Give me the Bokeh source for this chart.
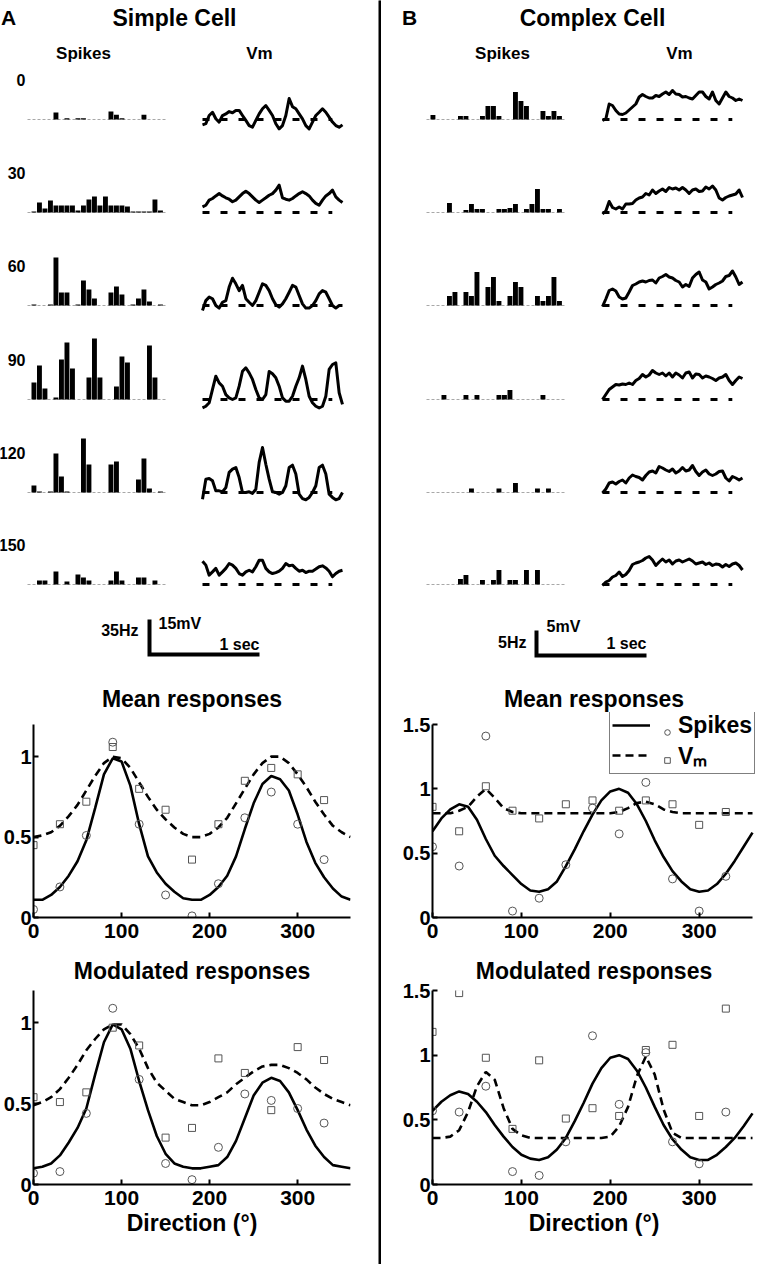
import numpy as np
from bokeh.plotting import figure
from bokeh.layouts import row, column
from bokeh.models import Range1d, FixedTicker, Legend, LegendItem, CustomJSTickFormatter
from bokeh.core.properties import value
from bokeh.embed import file_html
from bokeh.resources import INLINE

FONT = "Liberation Sans"

# =============================== DATA ===============================
ORIENTATIONS = ["0", "30", "60", "90", "120", "150"]
BIN_SEC = 0.05      # PSTH bin width (s), 25 bins
VM_DT = 0.0303      # Vm sample spacing (s), 43 samples

# PSTHs, simple cell (spikes/s)
SIMPLE_SPK_0 = [0, 0, 0, 0, 7, 0, 1.3, 0, 1.3, 1.3, 0, 0, 0, 0, 8, 4.7, 1.3, 0, 0, 0, 4.7, 0, 0, 0, 0]
SIMPLE_SPK_30 = [1, 10, 4, 12, 7, 7, 7, 7, 2, 7, 13, 16, 7, 16, 7, 7, 7, 6, 1, 1, 1, 1, 13, 2, 0]
SIMPLE_SPK_60 = [1, 0, 0, 1, 48, 13, 13, 0, 1, 25, 16, 7, 0, 0, 13, 19, 11, 0, 1, 7, 16, 4, 0, 1, 0]
SIMPLE_SPK_90 = [17, 34, 11, 0, 2, 40, 57, 31, 0, 0, 22, 61, 22, 0, 0, 13, 43, 37, 0, 0, 0, 54, 22, 0, 0]
SIMPLE_SPK_120 = [7, 1, 0, 1, 39, 16, 1, 0, 0, 54, 28, 0, 0, 0, 28, 31, 0, 0, 0, 13, 34, 4, 0, 1, 0]
SIMPLE_SPK_150 = [0, 4, 4, 0, 13, 0, 3, 0, 10, 7, 4, 0, 0, 0, 4, 13, 4, 0, 0, 7, 7, 0, 4, 0, 0]

# PSTHs, complex cell (spikes/s)
COMPLEX_SPK_0 = [0.9, 0, 0, 0, 0, 0.7, 0.7, 0, 0, 0.7, 2.7, 2.7, 0.7, 0, 0, 5.5, 3.7, 2.7, 0, 0, 1.7, 0.7, 1.7, 0.7, 0]
COMPLEX_SPK_30 = [0, 0, 0, 1.9, 0, 0, 0.5, 1.7, 0.7, 0.7, 0, 0, 0.7, 0.7, 0.9, 1.7, 0, 0.7, 1.7, 4.7, 0.7, 0.7, 0, 0.7, 0]
COMPLEX_SPK_60 = [0, 0, 0, 1.9, 2.7, 0, 2.7, 1.9, 6.7, 0, 3.7, 5.7, 0.9, 0, 1.9, 4.7, 3.7, 0, 0, 1.9, 0.9, 1.9, 5.7, 0.9, 0]
COMPLEX_SPK_90 = [0, 0, 0.9, 0, 0, 0, 0.9, 0, 0.9, 0, 0, 0, 0.9, 0.9, 1.9, 0, 0, 0, 0, 0, 0.9, 0, 0, 0, 0]
COMPLEX_SPK_120 = [0, 0, 0, 0, 0, 0, 0, 0.8, 0, 0, 0, 0, 0.8, 0, 0, 1.9, 0, 0, 0, 0.8, 0, 0.8, 0, 0, 0]
COMPLEX_SPK_150 = [0, 0, 0, 0, 0, 1.1, 1.9, 0, 0, 0.9, 0, 0.9, 2.9, 0, 0.9, 0.9, 0, 2.9, 0, 2.9, 0, 0, 0, 0, 0]

# Membrane potential (mV relative to rest), simple cell
SIMPLE_VM_0 = [-2.3, -1.8, 1.7, 3.1, 0.3, -1.1, 1.7, 2.4, 3.4, 2.9, 3.9, 3.9, 1.7, -0.4, -2.6, -3.3, -0.4, 2.4, 4.6, 6.0, 3.9, 1.7,
               -1.8, -4.0, -2.6, 1.7, 9.0, 5.5, 4.6, 2.4, 0.3, -2.6, -4.0, -1.1, 1.7, 3.1, 4.6, 3.1, 1.0, -1.1, -2.6, -3.3, -2.3]
SIMPLE_VM_30 = [2.4, 3.1, 5.3, 6.0, 7.1, 8.1, 7.1, 6.3, 5.7, 4.6, 5.3, 6.7, 8.1, 9.1, 8.1, 6.7, 5.3, 4.3, 5.3, 6.3, 7.4, 8.1,
                9.6, 11.7, 6.3, 5.7, 5.3, 6.0, 7.1, 8.1, 8.9, 8.1, 7.1, 5.3, 3.9, 3.1, 5.3, 7.1, 8.1, 9.6, 6.7, 5.3, 4.3]
SIMPLE_VM_60 = [-2.1, 2.1, 3.6, 2.9, 0, -1.1, 1.4, 2.1, 7.9, 11.7, 9.3, 6.4, 8.6, 2.9, 1.4, 0, 2.1, 5.7, 9.3, 8.6, 6.4, 2.9,
                0.3, -0.7, 0.7, 2.9, 5.7, 8.6, 7.9, 4.3, 0.7, -1.1, -1.1, 0, 2.1, 5.0, 6.4, 5.7, 2.9, 0, -1.1, 0, 0]
SIMPLE_VM_90 = [-3.6, -2.9, -1.4, 4.3, 10.0, 7.1, 5.7, 2.1, 0.7, 0, 0.7, 5.7, 12.1, 13.6, 11.4, 8.6, 4.3, 0.7, 0, 2.1, 12.0, 11.0,
                9.3, 5.7, 0.7, -0.7, -0.7, 1.4, 5.7, 9.3, 14.3, 8.6, 1.4, -1.4, -2.9, -3.6, -2.9, 1.4, 12.9, 15.0, 15.7, 2.9, -2.1]
SIMPLE_VM_120 = [-2.9, 5.7, 6.0, 5.0, 0.7, 0.7, 0.3, 2.1, 8.6, 10.0, 10.7, 6.4, 0, 0, 0.3, -0.4, 1.4, 12.9, 19.3, 12.1, 5.7, 0.3,
                 0, -0.7, 0, 2.9, 10.7, 11.7, 7.9, -0.7, -2.6, -3.1, -2.1, 0, 2.9, 10.7, 11.7, 7.9, -0.7, -2.1, -3.1, -2.6, 0]
SIMPLE_VM_150 = [10.0, 8.3, 4.0, 5.4, 6.9, 4.0, 5.4, 6.9, 9.0, 8.3, 6.9, 4.7, 4.0, 5.4, 6.1, 5.4, 7.6, 10.4, 10.4, 6.9, 5.4, 4.7,
                 5.1, 5.7, 6.9, 9.0, 8.0, 8.3, 6.9, 5.7, 6.1, 5.1, 5.7, 5.7, 6.6, 7.6, 8.0, 7.1, 5.7, 3.3, 4.7, 5.7, 6.1]

# Membrane potential (mV relative to rest), complex cell
COMPLEX_VM_0 = [-0.2, 0.1, 3.1, 2.8, 1.8, 1.1, 1.0, 1.3, 1.9, 2.5, 3.1, 4.5, 5.0, 4.6, 4.3, 4.3, 4.8, 4.6, 5.1, 5.5, 5.0, 5.8,
                5.1, 5.0, 4.5, 4.6, 4.3, 4.1, 4.8, 5.5, 5.5, 4.6, 4.1, 5.5, 3.8, 3.1, 4.3, 5.5, 4.6, 4.3, 3.8, 4.1, 3.8]
COMPLEX_VM_30 = [-0.3, 0.3, 2.2, 1.0, 0.7, 1.1, 0.7, 1.7, 1.7, 1.8, 2.5, 2.9, 3.1, 3.8, 3.5, 4.5, 3.8, 4.3, 4.7, 4.2, 5.0, 4.7,
                 4.9, 4.5, 5.0, 4.5, 3.8, 4.5, 4.7, 4.2, 4.3, 5.1, 4.7, 5.3, 4.5, 2.9, 2.5, 3.0, 3.3, 3.5, 3.7, 4.5, 3.0]
COMPLEX_VM_60 = [-0.2, 1.3, 3.0, 3.3, 2.9, 1.7, 1.3, 1.5, 2.7, 4.0, 4.3, 4.7, 4.9, 4.7, 5.0, 5.1, 4.5, 5.5, 5.8, 6.2, 5.7, 5.5,
                 5.0, 4.7, 3.7, 4.2, 3.8, 5.5, 6.2, 6.7, 5.1, 4.7, 3.3, 3.7, 4.2, 4.5, 4.9, 5.8, 6.0, 6.9, 5.7, 4.2, 4.7]
COMPLEX_VM_90 = [0, 1.0, 2.0, 2.5, 3.0, 2.9, 3.1, 3.0, 3.3, 3.0, 3.8, 4.2, 5.0, 4.5, 4.9, 5.8, 5.3, 5.0, 5.3, 4.7, 5.3, 4.5,
                 5.3, 4.9, 4.3, 5.3, 5.5, 4.3, 5.1, 5.0, 4.3, 4.7, 4.5, 4.2, 3.8, 4.3, 4.5, 5.0, 3.8, 3.0, 3.8, 4.5, 4.2]
COMPLEX_VM_120 = [-0.1, 0.7, 1.9, 2.1, 1.7, 2.2, 2.5, 1.9, 2.9, 3.5, 3.2, 3.0, 2.5, 3.4, 4.1, 4.3, 3.9, 5.2, 4.9, 4.5, 4.2, 4.7,
                  3.9, 4.3, 5.0, 4.3, 4.5, 5.4, 4.2, 3.4, 4.1, 4.5, 3.7, 3.4, 3.7, 4.2, 4.3, 2.9, 2.3, 3.2, 2.9, 2.5, 2.9]
COMPLEX_VM_150 = [-0.2, 0.5, 0.8, 1.5, 1.8, 2.5, 1.6, 2.0, 2.8, 4.0, 4.3, 4.5, 4.8, 5.3, 5.6, 4.9, 3.8, 4.5, 5.1, 4.5, 4.9, 4.1,
                  4.7, 4.9, 4.5, 4.8, 5.1, 4.7, 4.1, 4.3, 4.5, 4.0, 4.3, 3.8, 4.1, 4.0, 3.5, 4.0, 3.6, 4.1, 4.3, 3.8, 2.9]

# Direction tuning (normalised responses)
DIRECTIONS = [0, 30, 60, 90, 120, 150, 180, 210, 240, 270, 300, 330]
FIT_DIRECTIONS = list(range(0, 361, 10))

SIMPLE_MEAN_SPK = [0.05, 0.19, 0.51, 1.09, 0.58, 0.14, 0.01, 0.21, 0.62, 0.78, 0.58, 0.36]
SIMPLE_MEAN_VM = [0.45, 0.58, 0.72, 1.06, 0.80, 0.67, 0.36, 0.58, 0.85, 0.93, 0.89, 0.73]
SIMPLE_MOD_SPK = [0.07, 0.08, 0.44, 1.09, 0.65, 0.13, 0.03, 0.23, 0.56, 0.52, 0.47, 0.38]
SIMPLE_MOD_VM = [0.54, 0.51, 0.57, 0.97, 0.86, 0.29, 0.35, 0.78, 0.69, 0.46, 0.85, 0.77]
COMPLEX_MEAN_SPK = [0.55, 0.40, 1.41, 0.05, 0.15, 0.41, 0.85, 0.65, 1.05, 0.30, 0.05, 0.32]
COMPLEX_MEAN_VM = [0.86, 0.67, 1.02, 0.83, 0.77, 0.88, 0.91, 0.83, 0.91, 0.88, 0.72, 0.82]
COMPLEX_MOD_SPK = [0.57, 0.56, 0.76, 0.10, 0.07, 0.33, 1.15, 0.62, 1.02, 0.33, 0.16, 0.56]
COMPLEX_MOD_VM = [1.18, 1.48, 0.98, 0.43, 0.96, 0.51, 0.59, 0.53, 1.04, 1.08, 0.53, 1.36]

SIMPLE_MEAN_SPK_FIT = [0.11, 0.11, 0.14, 0.19, 0.26, 0.35, 0.48, 0.68, 0.89, 0.99, 0.97, 0.82, 0.58, 0.38, 0.28, 0.21, 0.16, 0.12, 0.11,
                       0.11, 0.14, 0.19, 0.26, 0.38, 0.55, 0.71, 0.83, 0.88, 0.86, 0.79, 0.64, 0.47, 0.34, 0.25, 0.18, 0.13, 0.11]
SIMPLE_MEAN_VM_FIT = [0.50, 0.51, 0.53, 0.57, 0.63, 0.70, 0.79, 0.88, 0.96, 1.00, 0.99, 0.93, 0.84, 0.75, 0.67, 0.61, 0.56, 0.52, 0.50,
                      0.50, 0.52, 0.56, 0.62, 0.71, 0.80, 0.89, 0.96, 1.00, 1.00, 0.96, 0.89, 0.81, 0.72, 0.64, 0.57, 0.53, 0.50]
SIMPLE_MOD_SPK_FIT = [0.10, 0.11, 0.13, 0.18, 0.26, 0.35, 0.47, 0.68, 0.88, 0.99, 0.96, 0.84, 0.64, 0.46, 0.30, 0.19, 0.13, 0.11, 0.10,
                      0.10, 0.11, 0.12, 0.17, 0.27, 0.41, 0.55, 0.63, 0.66, 0.64, 0.57, 0.46, 0.34, 0.24, 0.17, 0.12, 0.11, 0.10]
SIMPLE_MOD_VM_FIT = [0.49, 0.51, 0.54, 0.59, 0.66, 0.74, 0.83, 0.90, 0.96, 0.99, 0.99, 0.93, 0.84, 0.72, 0.63, 0.58, 0.53, 0.51, 0.49,
                     0.49, 0.51, 0.54, 0.57, 0.62, 0.66, 0.70, 0.73, 0.74, 0.74, 0.72, 0.69, 0.65, 0.60, 0.56, 0.53, 0.51, 0.49]
COMPLEX_MEAN_SPK_FIT = [0.67, 0.77, 0.84, 0.88, 0.86, 0.76, 0.61, 0.48, 0.40, 0.33, 0.26, 0.21, 0.20, 0.22, 0.28, 0.40, 0.53, 0.67, 0.80,
                        0.91, 0.98, 1.00, 0.97, 0.88, 0.75, 0.60, 0.47, 0.36, 0.28, 0.22, 0.20, 0.21, 0.26, 0.34, 0.44, 0.55, 0.66]
COMPLEX_MEAN_VM_FIT = [0.81, 0.81, 0.81, 0.83, 0.86, 0.94, 1.00, 0.93, 0.85, 0.82, 0.81, 0.81, 0.81, 0.81, 0.81, 0.81, 0.81, 0.81, 0.81,
                       0.81, 0.81, 0.82, 0.85, 0.89, 0.90, 0.88, 0.84, 0.82, 0.81, 0.81, 0.81, 0.81, 0.81, 0.81, 0.81, 0.81, 0.81]
COMPLEX_MOD_SPK_FIT = [0.57, 0.64, 0.69, 0.72, 0.70, 0.64, 0.56, 0.46, 0.37, 0.29, 0.23, 0.20, 0.19, 0.21, 0.27, 0.36, 0.49, 0.63, 0.78,
                       0.90, 0.98, 1.00, 0.97, 0.88, 0.75, 0.60, 0.46, 0.35, 0.27, 0.21, 0.19, 0.19, 0.23, 0.29, 0.36, 0.45, 0.55]
COMPLEX_MOD_VM_FIT = [0.36, 0.36, 0.37, 0.42, 0.56, 0.76, 0.87, 0.81, 0.59, 0.43, 0.38, 0.36, 0.36, 0.36, 0.36, 0.36, 0.36, 0.36, 0.36,
                      0.36, 0.37, 0.45, 0.60, 0.84, 0.99, 0.85, 0.58, 0.40, 0.36, 0.36, 0.36, 0.36, 0.36, 0.36, 0.36, 0.36, 0.36]

SIMPLE_SPK = [SIMPLE_SPK_0, SIMPLE_SPK_30, SIMPLE_SPK_60, SIMPLE_SPK_90, SIMPLE_SPK_120, SIMPLE_SPK_150]
COMPLEX_SPK = [COMPLEX_SPK_0, COMPLEX_SPK_30, COMPLEX_SPK_60, COMPLEX_SPK_90, COMPLEX_SPK_120, COMPLEX_SPK_150]
SIMPLE_VM = [SIMPLE_VM_0, SIMPLE_VM_30, SIMPLE_VM_60, SIMPLE_VM_90, SIMPLE_VM_120, SIMPLE_VM_150]
COMPLEX_VM = [COMPLEX_VM_0, COMPLEX_VM_30, COMPLEX_VM_60, COMPLEX_VM_90, COMPLEX_VM_120, COMPLEX_VM_150]

for _s in SIMPLE_SPK + COMPLEX_SPK:
    assert len(_s) == 25
for _v in SIMPLE_VM + COMPLEX_VM:
    assert len(_v) == 43
for _f in [SIMPLE_MEAN_SPK_FIT, SIMPLE_MEAN_VM_FIT, SIMPLE_MOD_SPK_FIT, SIMPLE_MOD_VM_FIT,
           COMPLEX_MEAN_SPK_FIT, COMPLEX_MEAN_VM_FIT, COMPLEX_MOD_SPK_FIT, COMPLEX_MOD_VM_FIT]:
    assert len(_f) == 37

# =============================== LAYOUT ===============================
W_L, W_DIV, W_R = 378, 3, 374
X_L0, X_R0 = 8, 389          # page x of each column
Y0 = 8
H_TOP, H_MEAN, H_MOD = 680, 269, 315
ROW_BASE = [127, 220, 313, 407, 500, 592]
PX_PER_SEC = 110.0
DASH_SEC = 1.18
SCALE_SEC = 1.0

BOLD = dict(text_font=value(FONT), text_font_style="bold", text_color="black")


def top_panel(x0, width, letter, letter_x, title, title_x, spk_x, vm_x, hist_x0, trace_x0,
              spikes, vms, px_hz, px_mv, sb_x, sb_y, sb_hz, hz_txt, hz_xy, mv_txt, mv_xy,
              sec_xy, row_labels):
    p = figure(width=width, height=H_TOP, x_range=Range1d(x0, x0 + width),
               y_range=Range1d(Y0 + H_TOP, Y0), x_axis_type=None, y_axis_type=None,
               min_border=0, toolbar_location=None, output_backend="svg",
               outline_line_color=None, frame_align=False)
    p.text(x=[letter_x], y=[25], text=[letter], text_font_size="21px",
           text_align="center", text_baseline="middle", **BOLD)
    p.text(x=[title_x], y=[25], text=[title], text_font_size="23px",
           text_align="center", text_baseline="middle", **BOLD)
    p.text(x=[spk_x, vm_x], y=[61, 61], text=["Spikes", "Vm"], text_font_size="17px",
           text_align="center", text_baseline="middle", **BOLD)
    n_bins = len(spikes[0])
    t_bins = np.arange(n_bins) * BIN_SEC
    for r, base in enumerate(ROW_BASE):
        rates = np.asarray(spikes[r], dtype=float)
        p.line([hist_x0 - 4, hist_x0 + n_bins * BIN_SEC * PX_PER_SEC - 2], [base, base],
               line_color="#a8a8a8", line_width=1, line_dash="3 2")
        nz = rates > 0
        left = hist_x0 + t_bins[nz] * PX_PER_SEC
        p.quad(left=left, right=left + BIN_SEC * PX_PER_SEC - 0.6,
               top=base - rates[nz] * px_hz, bottom=np.full(nz.sum(), base),
               fill_color="black", line_color=None)
        vm = np.asarray(vms[r], dtype=float)
        t = np.arange(len(vm)) * VM_DT
        p.line([trace_x0, trace_x0 + DASH_SEC * PX_PER_SEC], [base, base], line_color="black",
               line_width=2.8, line_dash="7 11")
        p.line(trace_x0 + t * PX_PER_SEC, base - vm * px_mv, line_color="black",
               line_width=3, line_join="round")
        if row_labels:
            p.text(x=[33], y=[base - 40], text=[ORIENTATIONS[r]], text_font_size="16px",
                   text_align="right", text_baseline="middle", **BOLD)
    # scale bar (same vertical length stands for the Hz and the mV value)
    p.line([sb_x, sb_x, sb_x + SCALE_SEC * PX_PER_SEC], [sb_y - sb_hz * px_hz, sb_y, sb_y],
           line_color="black", line_width=4, line_join="miter")
    p.text(x=[hz_xy[0]], y=[hz_xy[1]], text=[hz_txt], text_font_size="16px",
           text_align="right", text_baseline="middle", **BOLD)
    p.text(x=[mv_xy[0]], y=[mv_xy[1]], text=[mv_txt], text_font_size="16px",
           text_align="left", text_baseline="middle", **BOLD)
    p.text(x=[sec_xy[0]], y=[sec_xy[1]], text=["1 sec"], text_font_size="16px",
           text_align="right", text_baseline="middle", **BOLD)
    return p


AXIS_W = 320   # px spanned by 0..360 deg


def tuning(width, height, bl, br, bt, frame_h, axis_h, standoff, title, ymax, yticks,
           fit_spk, fit_vm, pts_spk, pts_vm, xlabel=None, legend_loc=None):
    frame_w = width - bl - br
    bb = height - bt - frame_h
    x_hi = 360.0 * frame_w / AXIS_W
    y_hi = ymax * frame_h / axis_h
    p = figure(width=width, height=height, x_range=Range1d(0, x_hi), y_range=Range1d(0, y_hi),
               min_border_left=bl, min_border_right=br, min_border_top=bt, min_border_bottom=bb,
               toolbar_location=None, output_backend="svg", title=title, frame_align=False)
    p.title.align = "center"
    p.title.text_font = FONT
    p.title.text_font_size = "23px"
    p.title.text_font_style = "bold"
    p.title.text_color = "black"
    p.title.standoff = standoff
    p.grid.visible = False
    p.outline_line_color = None
    p.xaxis.ticker = FixedTicker(ticks=[0, 100, 200, 300])
    p.yaxis.ticker = FixedTicker(ticks=yticks)
    p.xaxis.formatter = CustomJSTickFormatter(code="return String(tick);")
    p.yaxis.formatter = CustomJSTickFormatter(code="return String(tick);")
    p.xaxis.bounds = (0, 360)
    p.yaxis.bounds = (0, ymax)
    for ax in (p.xaxis[0], p.yaxis[0]):
        ax.axis_line_width = 2
        ax.axis_line_color = "black"
        ax.major_tick_in = 5
        ax.major_tick_out = 0
        ax.major_tick_line_width = 2
        ax.minor_tick_line_color = None
        ax.major_label_text_font = FONT
        ax.major_label_text_font_style = "bold"
        ax.major_label_text_color = "black"
    p.xaxis.major_label_text_font_size = "21px"
    p.xaxis.major_label_standoff = 6
    p.yaxis.major_label_text_font_size = "20px"
    p.yaxis.major_label_standoff = 2
    if xlabel:
        p.xaxis.axis_label = xlabel
        p.xaxis.axis_label_text_font = FONT
        p.xaxis.axis_label_text_font_size = "23px"
        p.xaxis.axis_label_text_font_style = "bold"
        p.xaxis.axis_label_text_color = "black"
        p.xaxis.axis_label_standoff = 2
    l1 = p.line(FIT_DIRECTIONS, fit_spk, line_width=2.6, line_color="black")
    l2 = p.line(FIT_DIRECTIONS, fit_vm, line_width=2.6, line_color="black", line_dash="8 5")
    c = p.scatter(DIRECTIONS, pts_spk, marker="circle", size=8, fill_color=None,
                  line_color="#555555", line_width=1)
    s = p.scatter(DIRECTIONS, pts_vm, marker="square", size=7, fill_color=None,
                  line_color="#555555", line_width=1)
    if legend_loc is not None:
        common = dict(label_text_font=FONT, label_text_font_size="23px",
                      label_text_font_style="bold", label_text_color="black",
                      glyph_height=20, label_height=28, padding=2, spacing=0, margin=0)
        # framed legend: line samples and labels (gap left for the marker samples)
        leg = Legend(items=[LegendItem(label="Spikes", renderers=[l1]),
                            LegendItem(label="V\u2098", renderers=[l2])],
                     location=legend_loc, border_line_color="black", border_line_width=1.5,
                     glyph_width=38, label_standoff=28,
                     background_fill_color="white", background_fill_alpha=1, **common)
        # marker samples laid over the gap
        leg_m = Legend(items=[LegendItem(label="", renderers=[c]),
                              LegendItem(label="", renderers=[s])],
                       location=(legend_loc[0] + 51, legend_loc[1]),
                       border_line_color=None, background_fill_alpha=0,
                       glyph_width=14, label_standoff=0, **common)
        p.add_layout(leg)
        p.add_layout(leg_m)
    return p


top_L = top_panel(X_L0, W_L, "A", 16, "Simple Cell", 182, 91, 267, 39, 210,
                  SIMPLE_SPK, SIMPLE_VM, 1.0, 35.0 / 15.0, 157, 662, 35,
                  "35Hz", (146, 638), "15mV", (166, 631), (267, 652), True)
top_R = top_panel(X_R0, W_R, "B", 417, "Complex Cell", 600, 510, 687, 438, 610,
                  COMPLEX_SPK, COMPLEX_VM, 5.0, 5.0, 544, 663, 5,
                  "5Hz", (534, 650), "5mV", (554, 634), (654, 651), False)

# mean panels: frame 720..925, axis 0 at 925, top tick at 732
mean_L = tuning(W_L, H_MEAN, 30, 28, 32, 205, 193, 1, "Mean responses", 1.2, [0, 0.5, 1],
                SIMPLE_MEAN_SPK_FIT, SIMPLE_MEAN_VM_FIT, SIMPLE_MEAN_SPK, SIMPLE_MEAN_VM)
mean_R = tuning(W_R, H_MEAN, 51, 0, 32, 205, 193, 1, "Mean responses", 1.5, [0, 0.5, 1, 1.5],
                COMPLEX_MEAN_SPK_FIT, COMPLEX_MEAN_VM_FIT, COMPLEX_MEAN_SPK, COMPLEX_MEAN_VM,
                legend_loc=(177, 143))
# modulated panels: frame 998..1192
mod_L = tuning(W_L, H_MOD, 30, 28, 41, 194, 194, 13, "Modulated responses", 1.2, [0, 0.5, 1],
               SIMPLE_MOD_SPK_FIT, SIMPLE_MOD_VM_FIT, SIMPLE_MOD_SPK, SIMPLE_MOD_VM,
               xlabel="Direction (\u00b0)")
mod_R = tuning(W_R, H_MOD, 51, 0, 41, 194, 194, 13, "Modulated responses", 1.5, [0, 0.5, 1, 1.5],
               COMPLEX_MOD_SPK_FIT, COMPLEX_MOD_VM_FIT, COMPLEX_MOD_SPK, COMPLEX_MOD_VM,
               xlabel="Direction (\u00b0)")

divider = figure(width=W_DIV, height=H_TOP + H_MEAN + H_MOD, x_axis_type=None, y_axis_type=None,
                 min_border=0, toolbar_location=None, output_backend="svg",
                 background_fill_color="black", border_fill_color="black",
                 outline_line_color=None, x_range=Range1d(0, 1), y_range=Range1d(0, 1),
                 frame_align=False)
divider.line([0.5, 0.5], [0, 1], line_color="black", line_width=1)

layout = row(column(top_L, mean_L, mod_L, spacing=0),
             divider,
             column(top_R, mean_R, mod_R, spacing=0), spacing=0)

open("out.html", "w").write(file_html(layout, INLINE))
